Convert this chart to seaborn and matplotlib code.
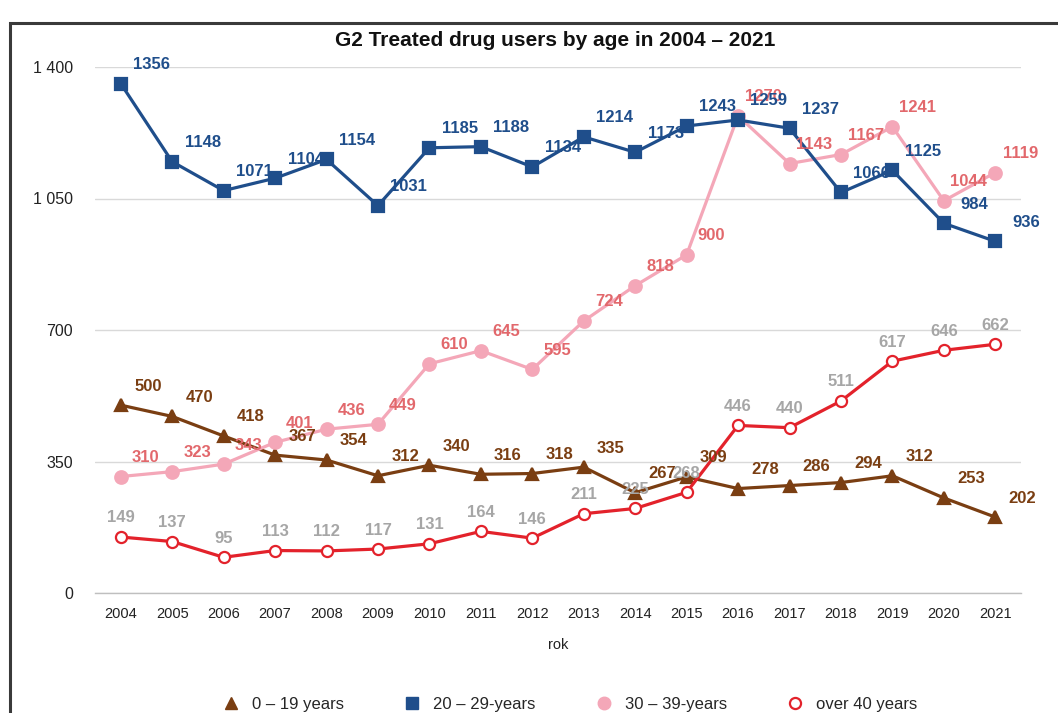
import matplotlib
matplotlib.use("Agg")
import matplotlib.pyplot as plt
from matplotlib.lines import Line2D
from matplotlib.patches import Rectangle
import seaborn as sns
import numpy as np
import pandas as pd

years = ["2004", "2005", "2006", "2007", "2008", "2009", "2010", "2011", "2012",
         "2013", "2014", "2015", "2016", "2017", "2018", "2019", "2020", "2021"]
age_0_19 = [500, 470, 418, 367, 354, 312, 340, 316, 318, 335, 267, 309, 278, 286, 294, 312, 253, 202]
age_20_29 = [1356, 1148, 1071, 1104, 1154, 1031, 1185, 1188, 1134, 1214, 1173, 1243, 1259, 1237, 1066, 1125, 984, 936]
age_30_39 = [310, 323, 343, 401, 436, 449, 610, 645, 595, 724, 818, 900, 1270, 1143, 1167, 1241, 1044, 1119]
age_40_plus = [149, 137, 95, 113, 112, 117, 131, 164, 146, 211, 225, 268, 446, 440, 511, 617, 646, 662]
series_names = ["0 – 19 years", "20 – 29-years", "30 – 39-years", "over 40 years"]
y_ticks = [0, 350, 700, 1050, 1400]
y_tick_labels = ["0", "350", "700", "1 050", "1 400"]

sns.set_theme(style="white")
plt.rcParams["font.family"] = ["Liberation Sans", "DejaVu Sans"]

fig = plt.figure(figsize=(10.58, 7.13), dpi=100)
ax = fig.add_axes([95 / 1058, 120 / 713, 926 / 1058, 526 / 713])

x = np.arange(len(years))

styles = [
    dict(data=age_0_19, color="#7A3E12", marker="^", ms=9, mfc="#7A3E12", mec="#7A3E12",
         lab_color="#7A3E12", dx=19.5),
    dict(data=age_30_39, color="#F4A7B8", marker="o", ms=9, mfc="#F4A7B8", mec="#F4A7B8",
         lab_color="#E2686C", dx=18),
    dict(data=age_20_29, color="#1F4E8B", marker="s", ms=8, mfc="#1F4E8B", mec="#1F4E8B",
         lab_color="#1F4E8B", dx=22),
    dict(data=age_40_plus, color="#E3222B", marker="o", ms=8, mfc="white", mec="#E3222B",
         lab_color="#A6A6A6", dx=0),
]

for s in styles:
    df = pd.DataFrame({"x": x, "y": s["data"]})
    sns.lineplot(data=df, x="x", y="y", ax=ax, color=s["color"], linewidth=2.3,
                 marker=s["marker"], markersize=s["ms"], markerfacecolor=s["mfc"],
                 markeredgecolor=s["mec"], markeredgewidth=1.6, clip_on=False, zorder=3)
    for xi, yi in zip(x, s["data"]):
        ax.annotate(str(yi), (xi, yi), xytext=(s["dx"], 13.7), textcoords="offset points",
                    ha="center", va="center", fontsize=12, fontweight="bold",
                    color=s["lab_color"], zorder=4, annotation_clip=False)

ax.set_xlim(-0.5, len(years) - 0.5)
ax.set_ylim(0, 1400)
ax.set_yticks(y_ticks)
ax.set_yticklabels(y_tick_labels, fontsize=11.5, color="#222222")
ax.set_xticks(x)
ax.set_xticklabels(years, fontsize=10.5, color="#222222")
ax.set_xticks(np.arange(-0.5, len(years)), minor=True)
ax.tick_params(axis="x", which="major", length=0, pad=10)
ax.tick_params(axis="x", which="minor", length=5, width=1, color="#BFBFBF", direction="out")
ax.tick_params(axis="y", length=0, pad=16)
ax.grid(axis="y", color="#D9D9D9", linewidth=1)
ax.set_axisbelow(True)
for side in ["left", "right", "top"]:
    ax.spines[side].set_visible(False)
ax.spines["bottom"].set_color("#BFBFBF")
ax.spines["bottom"].set_linewidth(1)
ax.set_xlabel("rok", fontsize=10.5, color="#222222", labelpad=12)
ax.set_ylabel("")

fig.text(555 / 1058, 1 - 40 / 713, "G2 Treated drug users by age in 2004 – 2021",
         ha="center", va="center", fontsize=15, fontweight="bold", color="#111111")

handles = [
    Line2D([], [], linestyle="", marker="^", markersize=9, color="#7A3E12"),
    Line2D([], [], linestyle="", marker="s", markersize=8, color="#1F4E8B"),
    Line2D([], [], linestyle="", marker="o", markersize=9, color="#F4A7B8"),
    Line2D([], [], linestyle="", marker="o", markersize=8, markerfacecolor="white",
           markeredgecolor="#E3222B", markeredgewidth=1.6),
]
fig.legend(handles, series_names, loc="center", bbox_to_anchor=(570 / 1058, 9 / 713),
           ncol=4, frameon=False, fontsize=12, handlelength=1.0, handletextpad=0.75,
           columnspacing=3.6, borderpad=0)

fig.add_artist(Rectangle((10 / 1058, -0.2), 1.2, 1.2 - 23 / 713, transform=fig.transFigure,
                         fill=False, edgecolor="#3A3A3A", linewidth=2.2, clip_on=False))

fig.savefig("out.png", dpi=100)
